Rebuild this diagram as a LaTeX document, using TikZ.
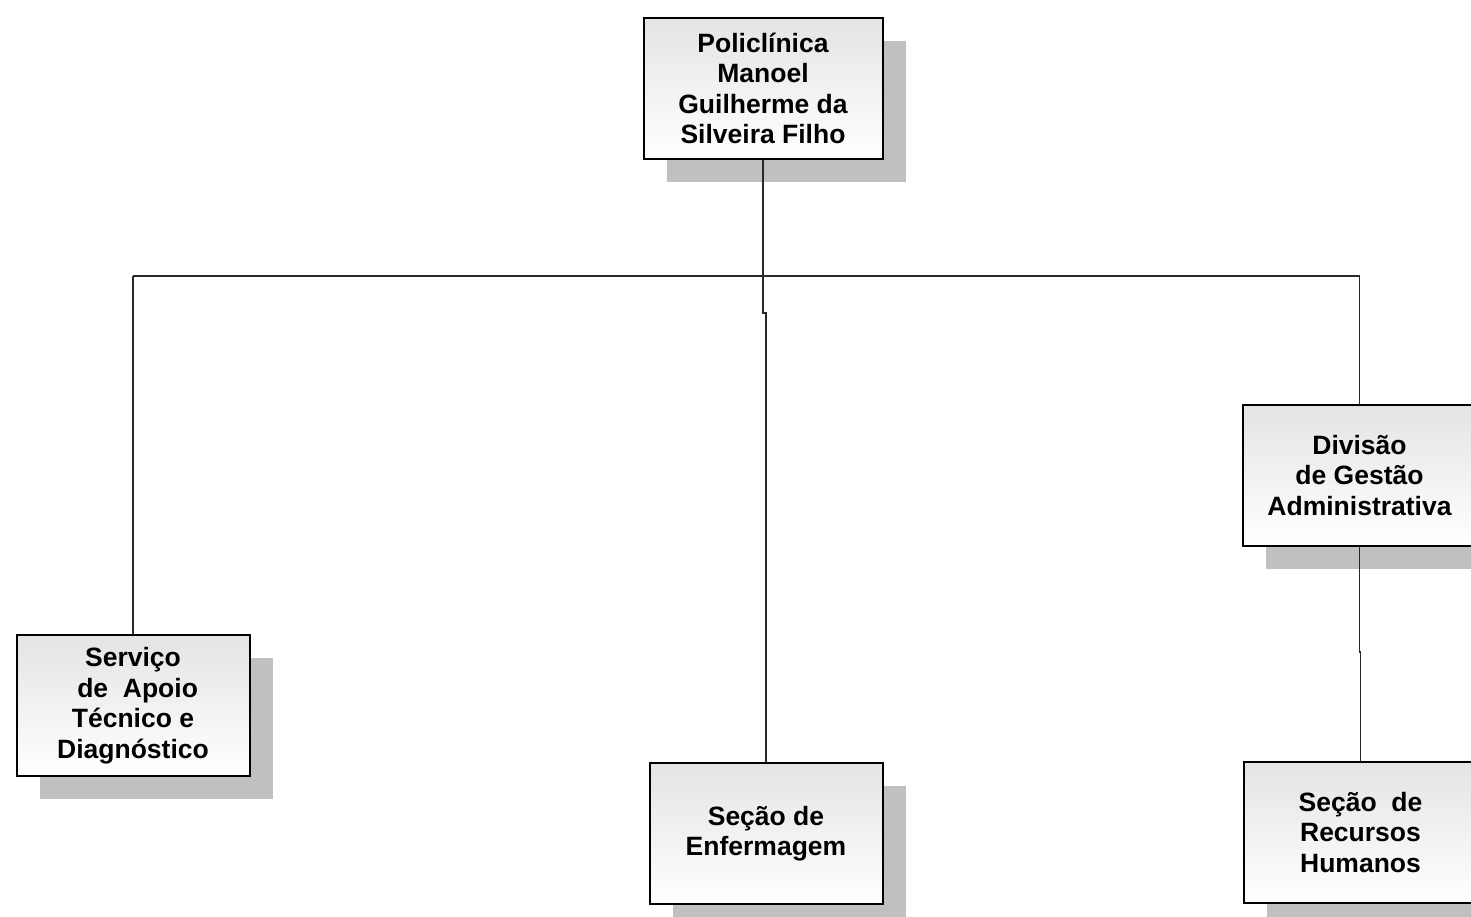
\documentclass[tikz,border=0pt]{standalone}
\usepackage{fontspec}
\setmainfont{Liberation Sans}
\usetikzlibrary{shadows}
\definecolor{shadowgray}{RGB}{192,192,192}
\definecolor{topgray}{RGB}{228,228,228}
\definecolor{linegray}{RGB}{40,40,40}
\begin{document}
\begin{tikzpicture}[x=1pt,y=-1pt,
  orgbox/.style={draw=black, line width=2pt, rectangle, minimum width=233pt, minimum height=141pt,
    inner sep=0pt, align=center, top color=topgray, bottom color=white,
    font=\fontsize{26.5}{30.5}\selectfont\bfseries,
    drop shadow={shadow xshift=23pt, shadow yshift=-23pt, fill=shadowgray, opacity=1}},
  conn/.style={draw=linegray, line width=1.1pt}]
\useasboundingbox (0,0) rectangle (1471,916);
\node[orgbox, minimum width=239pt] (top) at (763,88.5) {Policlínica\\Manoel\\Guilherme da\\Silveira Filho};
\node[orgbox] (left) at (133,705.5) {Serviço\\\hspace*{0.35em}de \ Apoio\\Técnico e\hspace*{0.35em}\\Diagnóstico};
\node[orgbox] (mid) at (766,833.5) {Seção de\\Enfermagem};
\node[orgbox] (ru) at (1359.5,475.5) {Divisão\\de Gestão\\Administrativa};
\node[orgbox] (rl) at (1360.5,832.5) {Seção \ de\\Recursos\\Humanos};
\coordinate (hL) at (133,276);
\coordinate (hM) at (763,276);
\coordinate (hR) at (1359.5,276);
\coordinate (jm) at (763,313);
\coordinate (jr) at (1359.5,652);
\draw[conn] (top.south) -- (hM);
\draw[conn] (hL) -- (hR);
\draw[conn] (hL) -- (left.north);
\draw[conn] (hM) -- (jm) -| (mid.north);
\draw[conn] (hR) -- (ru.north);
\draw[conn] (ru.south) -- (jr) -| (rl.north);
\end{tikzpicture}
\end{document}
